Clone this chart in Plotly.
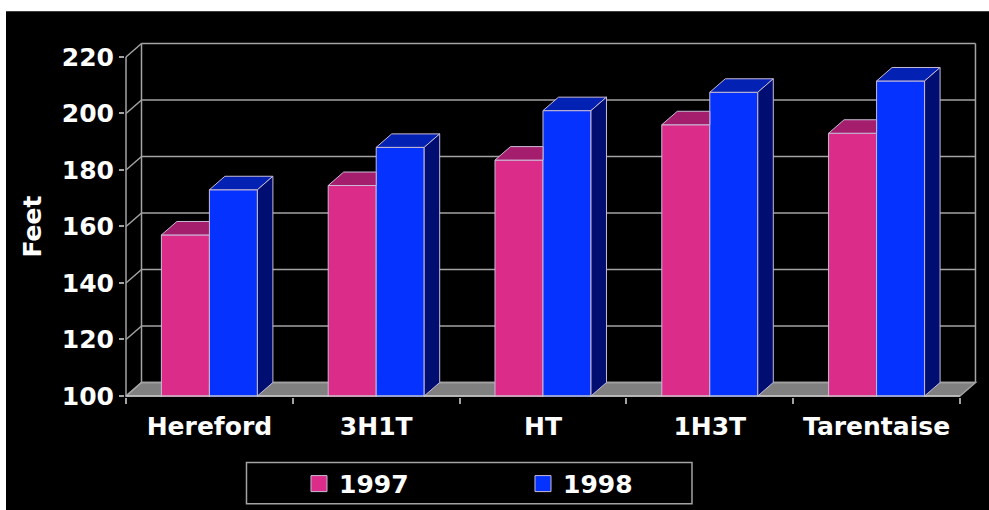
import plotly.graph_objects as go

# ---- data ----
categories = ["Hereford", "3H1T", "HT", "1H3T", "Tarentaise"]
values_1997 = [157, 174.5, 183.5, 196, 193]
values_1998 = [173, 188, 201, 207.5, 211.5]
series_names = ["1997", "1998"]
y_ticks = [100, 120, 140, 160, 180, 200, 220]
y_title = "Feet"

# ---- styles / layout ----
W, H = 989, 510
PX_X, PX_Y = 166.8, 2.83          # pixels per axis unit
X0, Y0 = 126.0, 396.5             # pixel of x=0, y=100
DX, DY = 15.5 / PX_X, 13.5 / PX_Y # depth of the pseudo-3D box, axis units
BAR_W = 48 / PX_X
N = len(categories)
FONT = "DejaVu Sans, sans-serif"
PINK, PINK_TOP = "#DB2C8A", "#A51E6E"
BLUE, BLUE_TOP, BLUE_SIDE = "#0532FF", "#0322B4", "#000E72"
EDGE = "#C9BBD6"
GRID = "#A3A3A3"
FLOOR = "#808080"

x_range = [-1 / PX_X, 5.12]
y_range = [100 - 1 / PX_Y, 226.0]
m_l = X0 + x_range[0] * PX_X
m_r = W - (X0 + x_range[1] * PX_X)
m_t = Y0 - (y_range[1] - 100) * PX_Y
m_b = H - (Y0 + (100 - y_range[0]) * PX_Y)
plot_w, plot_h = W - m_l - m_r, H - m_t - m_b

def paper_x(px):
    return (px - m_l) / plot_w

def paper_y(py):
    return 1 - (py - m_t) / plot_h

centers = [i + 0.5 for i in range(N)]
base = y_ticks[0]
top_tick = y_ticks[-1]

fig = go.Figure()

# front faces
fig.add_trace(go.Bar(x=centers, y=values_1997, width=BAR_W, offset=-BAR_W,
                     marker=dict(color=PINK, line=dict(color=EDGE, width=1)),
                     name=series_names[0], showlegend=False))
fig.add_trace(go.Bar(x=centers, y=values_1998, width=BAR_W, offset=0,
                     marker=dict(color=BLUE, line=dict(color=EDGE, width=1)),
                     name=series_names[1], showlegend=False))

def poly(xs, ys, fill):
    fig.add_trace(go.Scatter(x=xs + xs[:1], y=ys + ys[:1], mode="lines", fill="toself",
                             fillcolor=fill, line=dict(color=EDGE, width=1),
                             hoverinfo="skip", showlegend=False))

# tops and sides computed from the values
for c, v97, v98 in zip(centers, values_1997, values_1998):
    l = c - BAR_W
    poly([l, c, c, l + DX], [v97, v97, v97 + DY, v97 + DY], PINK_TOP)
    r = c + BAR_W
    poly([c, r, r + DX, c + DX], [v98, v98, v98 + DY, v98 + DY], BLUE_TOP)
    poly([r, r + DX, r + DX, r], [base, base + DY, v98 + DY, v98], BLUE_SIDE)

# legend entries
for name, col in zip(series_names, [PINK, BLUE]):
    fig.add_trace(go.Scatter(x=[None], y=[None], mode="markers", name=name,
                             marker=dict(symbol="square", size=16, color=col,
                                         line=dict(color=EDGE, width=1))))

shapes = [
    # black slide background
    dict(type="rect", xref="paper", yref="paper", layer="below",
         x0=paper_x(6), x1=paper_x(W + 2), y0=paper_y(11), y1=paper_y(H + 2),
         fillcolor="black", line=dict(width=0)),
    # floor
    dict(type="path", xref="x", yref="y", layer="below",
         path=f"M0,{base} L{N},{base} L{N + DX},{base + DY} L{DX},{base + DY} Z",
         fillcolor=FLOOR, line=dict(color=GRID, width=1.5)),
    # legend box
    dict(type="rect", xref="paper", yref="paper", layer="below",
         x0=paper_x(246.5), x1=paper_x(692), y0=paper_y(463), y1=paper_y(504.5),
         fillcolor="black", line=dict(color=GRID, width=1.5)),
]
line = dict(color=GRID, width=1.5)
for t in y_ticks:
    shapes.append(dict(type="line", xref="x", yref="y", layer="below",
                       x0=DX, x1=N + DX, y0=t + DY, y1=t + DY, line=line))
    shapes.append(dict(type="line", xref="x", yref="y", layer="below",
                       x0=0, x1=DX, y0=t, y1=t + DY, line=line))
for x_a, t_a in [(0, base), (DX, base + DY), (N + DX, base + DY)]:
    shapes.append(dict(type="line", xref="x", yref="y", layer="below",
                       x0=x_a, x1=x_a, y0=t_a, y1=(top_tick - base) + t_a, line=line))
# front baseline sits over the bars
shapes.append(dict(type="line", xref="x", yref="y", layer="above",
                   x0=0, x1=N, y0=base, y1=base, line=dict(color="#C4C4C4", width=1.5)))

fig.update_layout(
    width=W, height=H, template=None,
    margin=dict(l=m_l, r=m_r, t=m_t, b=m_b, pad=0, autoexpand=False),
    paper_bgcolor="white", plot_bgcolor="rgba(0,0,0,0)",
    barmode="overlay", shapes=shapes,
    font=dict(family=FONT, color="white", size=24, weight="bold"),
    showlegend=True,
    legend=dict(orientation="h", x=paper_x(299), xanchor="left",
                y=paper_y(484.5), yanchor="middle",
                entrywidth=179, entrywidthmode="pixels", itemwidth=30,
                bgcolor="rgba(0,0,0,0)", borderwidth=0,
                font=dict(family=FONT, color="white", size=25, weight="bold")),
    xaxis=dict(range=x_range, showgrid=False, zeroline=False, showline=False,
               tickmode="array", tickvals=centers, ticktext=categories, ticks="",
               ticklabelstandoff=12,
               tickfont=dict(family=FONT, color="white", size=25, weight="bold"),
               minor=dict(tickmode="array", tickvals=list(range(N + 1)), ticks="outside",
                          ticklen=6, tickcolor=GRID, tickwidth=1.5, showgrid=False)),
    yaxis=dict(range=y_range, showgrid=False, zeroline=False, showline=False,
               tickmode="array", tickvals=y_ticks, ticks="outside", ticklen=5,
               tickcolor=GRID, tickwidth=1.5, ticklabelstandoff=0,
               tickfont=dict(family=FONT, color="white", size=25, weight="bold")),
    annotations=[dict(text=y_title, textangle=-90, xref="paper", yref="y",
                      x=paper_x(32), y=160, xanchor="center", yanchor="middle",
                      showarrow=False,
                      font=dict(family=FONT, color="white", size=25, weight="bold"))],
)

fig.write_html("out.html", config=dict(displayModeBar=False),
               post_script="document.body.style.margin='0';document.body.style.overflow='hidden';")
